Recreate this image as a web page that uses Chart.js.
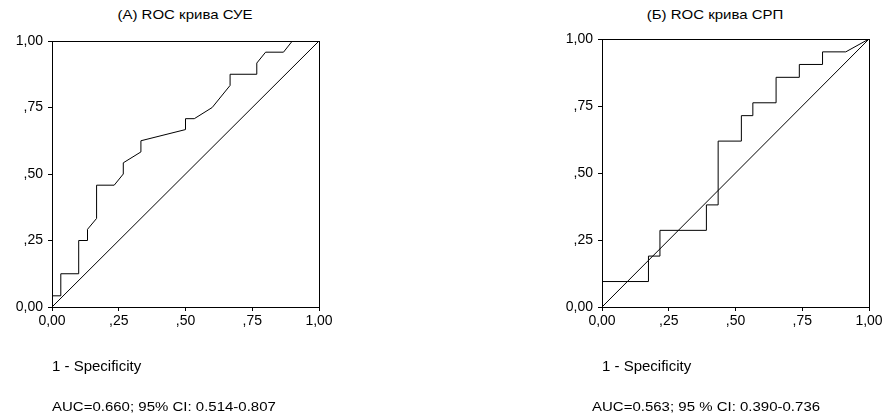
<!DOCTYPE html>
<html>
<head>
<meta charset="utf-8">
<script src="https://cdn.jsdelivr.net/npm/chart.js@4.4.1/dist/chart.umd.min.js"></script>
<style>
  body { margin: 0; background: #fff; width: 886px; height: 419px; position: relative; overflow: hidden; font-family: "Liberation Sans", Arial, sans-serif; color: #000; }
  canvas { position: absolute; top: 0; }
  .txt { position: absolute; white-space: nowrap; font-size: 15px; line-height: 16px; transform: scaleY(0.88); transform-origin: left center; }
  .ttl { position: absolute; white-space: nowrap; font-size: 15px; line-height: 16px; text-align: center; width: 260px; transform: scaleY(0.88); }
</style>
</head>
<body>
<div class="ttl" style="left:55px; top:7px">(A) ROC крива СУЕ</div>
<div class="ttl" style="left:585px; top:7px">(Б) ROC крива СРП</div>
<canvas id="rocA" width="345" height="419" style="left:0"></canvas>
<canvas id="rocB" width="341" height="419" style="left:545px"></canvas>
<div class="txt" style="left:52px; top:399px">AUC=0.660; 95% CI: 0.514-0.807</div>
<div class="txt" style="left:592px; top:399px">AUC=0.563; 95 % CI: 0.390-0.736</div>
<script>
// axis ticks
const tickValues = [0, 0.25, 0.5, 0.75, 1]
const tickLabels = ['0,00', ',25', ',50', ',75', '1,00']
const xTitle = '1 - Specificity'

// (A) СУЕ: 1 - specificity / sensitivity
const fprA = [0, 0, 0.033, 0.033, 0.1, 0.1, 0.133, 0.133, 0.167, 0.167, 0.233, 0.267, 0.267, 0.333, 0.333, 0.5, 0.5, 0.533, 0.6, 0.667, 0.667, 0.767, 0.767, 0.8, 0.867, 0.9, 1]
const tprA = [0, 0.042, 0.042, 0.125, 0.125, 0.25, 0.25, 0.292, 0.333, 0.458, 0.458, 0.5, 0.542, 0.583, 0.625, 0.667, 0.708, 0.708, 0.75, 0.833, 0.875, 0.875, 0.917, 0.958, 0.958, 1, 1]

// (Б) СРП
const fprB = [0, 0, 0.174, 0.174, 0.217, 0.217, 0.391, 0.391, 0.435, 0.435, 0.522, 0.522, 0.565, 0.565, 0.652, 0.652, 0.739, 0.739, 0.826, 0.826, 0.913, 1]
const tprB = [0, 0.095, 0.095, 0.19, 0.19, 0.286, 0.286, 0.381, 0.381, 0.619, 0.619, 0.714, 0.714, 0.762, 0.762, 0.857, 0.857, 0.905, 0.905, 0.952, 0.952, 1]

// reference line
const diagX = [0, 1]
const diagY = [0, 1]

const toPoints = (xs, ys) => xs.map((x, i) => ({ x: x, y: ys[i] }))

// box round the plot area
const frame = {
  id: 'frame',
  afterDraw(chart) {
    const a = chart.chartArea
    const ctx = chart.ctx
    ctx.save()
    ctx.strokeStyle = '#000'
    ctx.lineWidth = 1
    ctx.strokeRect(a.left + 0.5, a.top + 0.5, a.right - a.left, a.bottom - a.top)
    ctx.restore()
  },
}

function makeRoc(id, xs, ys, yWidth, pad) {
  const ctx = document.getElementById(id).getContext('2d')
  return new Chart(ctx, {
    type: 'scatter',
    data: {
      datasets: [
        {
          data: toPoints(xs, ys),
          showLine: true,
          borderColor: '#000',
          borderWidth: 1,
          pointRadius: 0,
          tension: 0,
        },
        {
          data: toPoints(diagX, diagY),
          showLine: true,
          borderColor: '#000',
          borderWidth: 1,
          pointRadius: 0,
        },
      ],
    },
    options: {
      responsive: false,
      animation: false,
      layout: { padding: pad },
      plugins: { legend: { display: false }, tooltip: { enabled: false } },
      scales: {
        x: {
          type: 'linear',
          min: 0,
          max: 1,
          afterBuildTicks: (s) => { s.ticks = tickValues.map((v) => ({ value: v })) },
          afterFit: (s) => { s.height = 69 },
          grid: { drawOnChartArea: false, drawTicks: true, tickLength: 4, color: '#000' },
          border: { display: true, color: '#000' },
          ticks: {
            color: '#000',
            padding: 2,
            maxRotation: 0,
            font: { family: 'Liberation Sans', size: 14 },
            callback: (v, i) => tickLabels[i],
          },
          title: {
            display: true,
            text: xTitle,
            align: 'start',
            color: '#000',
            padding: { top: 0, bottom: 0 },
            font: { family: 'Liberation Sans', size: 15 },
          },
        },
        y: {
          type: 'linear',
          min: 0,
          max: 1,
          afterBuildTicks: (s) => { s.ticks = tickValues.map((v) => ({ value: v })) },
          afterFit: (s) => { s.width = yWidth },
          grid: { drawOnChartArea: false, drawTicks: true, tickLength: 4, color: '#000' },
          border: { display: true, color: '#000' },
          ticks: {
            color: '#000',
            padding: 5,
            font: { family: 'Liberation Sans', size: 14 },
            callback: (v, i) => tickLabels[i],
          },
        },
      },
    },
    plugins: [frame],
  })
}

makeRoc('rocA', fprA, tprA, 52, { top: 41, right: 26, bottom: 43, left: 0 })
makeRoc('rocB', fprB, tprB, 57, { top: 39, right: 17, bottom: 43, left: 0 })
</script>
</body>
</html>
